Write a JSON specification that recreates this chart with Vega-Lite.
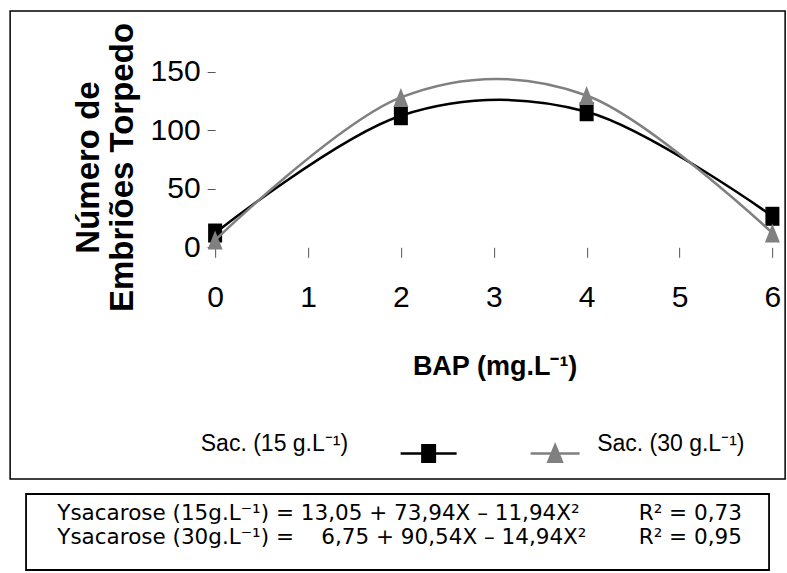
{
  "$schema": "https://vega.github.io/schema/vega-lite/v6.json",
  "padding": {"left": 9, "top": 10, "right": 0, "bottom": 0},
  "background": "white",
  "spacing": 13,
  "center": true,
  "config": {
    "view": {"stroke": "black", "strokeWidth": 1.5},
    "font": "Liberation Sans",
    "axis": {"grid": false}
  },
  "vconcat": [
    {
      "width": 775,
      "height": 468,
      "data": {
        "values": [
          {"bap": 0, "n": 12.2, "serie": "Sac. (15 g.L⁻¹)"},
          {"bap": 2, "n": 112.4, "serie": "Sac. (15 g.L⁻¹)"},
          {"bap": 4, "n": 115.8, "serie": "Sac. (15 g.L⁻¹)"},
          {"bap": 6, "n": 26.5, "serie": "Sac. (15 g.L⁻¹)"},
          {"bap": 0, "n": 6.2, "serie": "Sac. (30 g.L⁻¹)"},
          {"bap": 2, "n": 128.0, "serie": "Sac. (30 g.L⁻¹)"},
          {"bap": 4, "n": 129.7, "serie": "Sac. (30 g.L⁻¹)"},
          {"bap": 6, "n": 12.2, "serie": "Sac. (30 g.L⁻¹)"}
        ]
      },
      "encoding": {
        "x": {
          "field": "bap",
          "type": "quantitative",
          "scale": {"domain": [-2.207, 6.137], "nice": false, "zero": false},
          "axis": {
            "title": "BAP (mg.L⁻¹)",
            "values": [0, 1, 2, 3, 4, 5, 6],
            "format": "d",
            "offset": -231.7,
            "domain": false,
            "tickSize": 10,
            "tickColor": "#555555",
            "tickWidth": 1,
            "labelFontSize": 30,
            "labelColor": "black",
            "labelPadding": 25,
            "titleFont": "Liberation Sans",
            "titleFontSize": 27,
            "titleFontWeight": "bold",
            "titleColor": "black",
            "titleX": 484.5,
            "titleY": 127,
            "titleBaseline": "alphabetic",
            "titleAlign": "center"
          }
        },
        "y": {
          "field": "n",
          "type": "quantitative",
          "scale": {"domain": [-197.9, 201.85], "nice": false, "zero": false},
          "axis": {
            "title": ["Número de", "Embriões Torpedo"],
            "values": [0, 50, 100, 150],
            "format": "d",
            "offset": -205,
            "domain": false,
            "tickSize": 8,
            "tickColor": "#555555",
            "tickWidth": 1,
            "labelFontSize": 30,
            "labelColor": "black",
            "labelPadding": 7,
            "titleFontSize": 33,
            "titleFontWeight": "bold",
            "titleColor": "black",
            "titleAngle": 270,
            "titleX": -117,
            "titleY": 156,
            "titleBaseline": "alphabetic",
            "titleAlign": "center",
            "titleLineHeight": 34
          }
        }
      },
      "resolve": {"scale": {"color": "independent"}, "legend": {"color": "independent"}},
      "layer": [
        {
          "data": {"values": [{}]},
          "mark": {"type": "rule", "color": "#555555", "strokeWidth": 1},
          "encoding": {"x": {"datum": 0}, "x2": {"datum": 6}, "y": {"datum": 0}}
        },
        {
          "data": {"values": [{}]},
          "mark": {"type": "rule", "color": "#555555", "strokeWidth": 1},
          "encoding": {"x": {"datum": 0}, "y": {"datum": 0}, "y2": {"datum": 150}}
        },
        {
          "transform": [{"filter": "datum.serie === 'Sac. (15 g.L⁻¹)'"}],
          "mark": {"type": "line", "interpolate": "cardinal", "tension": 0, "color": "black", "strokeWidth": 2.5}
        },
        {
          "transform": [{"filter": "datum.serie === 'Sac. (15 g.L⁻¹)'"}],
          "mark": {"type": "point", "shape": "M-0.737,-1L0.737,-1L0.737,1L-0.737,1Z", "size": 361, "filled": true, "opacity": 1, "strokeWidth": 0},
          "encoding": {
            "color": {
              "field": "serie",
              "type": "nominal",
              "scale": {"domain": ["Sac. (15 g.L⁻¹)"], "range": ["#000000"]},
              "legend": {
                "orient": "none",
                "legendX": 389,
                "legendY": 413,
                "title": null,
                "padding": 0,
                "symbolType": "M-1,0L1,0M-0.223,-0.295L0.223,-0.295L0.223,0.295L-0.223,0.295Z",
                "symbolSize": 3136,
                "symbolStrokeWidth": 2.5,
                "symbolOpacity": 1,
                "labelAlign": "right",
                "labelBaseline": "alphabetic",
                "labelOffset": -110,
                "labelFont": "Liberation Sans",
                "labelFontSize": 23,
                "labelColor": "black",
                "labelLimit": 400,
                "encode": {
                  "symbols": {
                    "update": {
                      "stroke": {"value": "#000000"},
                      "fill": {"value": "#000000"},
                      "strokeWidth": {"value": 2.5},
                      "opacity": {"value": 1}
                    }
                  },
                  "labels": {"update": {"dy": {"value": -3}}}
                }
              }
            }
          }
        },
        {
          "transform": [{"filter": "datum.serie === 'Sac. (30 g.L⁻¹)'"}],
          "mark": {"type": "line", "interpolate": "cardinal", "tension": 0, "color": "#808080", "strokeWidth": 2.5}
        },
        {
          "transform": [{"filter": "datum.serie === 'Sac. (30 g.L⁻¹)'"}],
          "mark": {"type": "point", "shape": "M0,-1L0.79,1L-0.79,1Z", "size": 361, "filled": true, "opacity": 1, "strokeWidth": 0},
          "encoding": {
            "color": {
              "field": "serie",
              "type": "nominal",
              "scale": {"domain": ["Sac. (30 g.L⁻¹)"], "range": ["#808080"]},
              "legend": {
                "orient": "none",
                "legendX": 519,
                "legendY": 416.5,
                "title": null,
                "padding": 0,
                "symbolType": "M-1,0L1,0M0,-0.337L0.276,0.337L-0.276,0.337Z",
                "symbolSize": 2401,
                "symbolStrokeWidth": 2.5,
                "symbolOpacity": 1,
                "labelAlign": "left",
                "labelBaseline": "alphabetic",
                "labelOffset": 16,
                "labelFont": "Liberation Sans",
                "labelFontSize": 23,
                "labelColor": "black",
                "labelLimit": 400,
                "encode": {
                  "symbols": {
                    "update": {
                      "stroke": {"value": "#808080"},
                      "fill": {"value": "#808080"},
                      "strokeWidth": {"value": 2.5},
                      "opacity": {"value": 1}
                    }
                  },
                  "labels": {"update": {"dy": {"value": -3}}}
                }
              }
            }
          }
        }
      ]
    },
    {
      "width": 743,
      "height": 76,
      "view": {"stroke": "black", "strokeWidth": 1.8},
      "data": {
        "values": [
          {"linha": 1, "eq": "Ysacarose (15g.L⁻¹) = 13,05 + 73,94X – 11,94X²", "r2": "R² = 0,73"},
          {"linha": 2, "eq": "Ysacarose (30g.L⁻¹) =\u00a0\u00a0\u00a0 6,75 + 90,54X – 14,94X²", "r2": "R² = 0,95"}
        ]
      },
      "encoding": {
        "y": {
          "field": "linha",
          "type": "quantitative",
          "scale": {"domain": [-0.049, 3.053], "reverse": true, "nice": false, "zero": false},
          "axis": null
        }
      },
      "layer": [
        {
          "mark": {"type": "text", "align": "left", "baseline": "alphabetic", "font": "DejaVu Sans", "fontSize": 21.5, "color": "black"},
          "encoding": {
            "x": {"datum": 0.042, "type": "quantitative", "scale": {"domain": [0, 1], "nice": false, "zero": false}, "axis": null},
            "text": {"field": "eq", "type": "nominal"}
          }
        },
        {
          "mark": {"type": "text", "align": "left", "baseline": "alphabetic", "font": "DejaVu Sans", "fontSize": 21.5, "color": "black"},
          "encoding": {
            "x": {"datum": 0.8246, "type": "quantitative", "axis": null},
            "text": {"field": "r2", "type": "nominal"}
          }
        }
      ]
    }
  ]
}
